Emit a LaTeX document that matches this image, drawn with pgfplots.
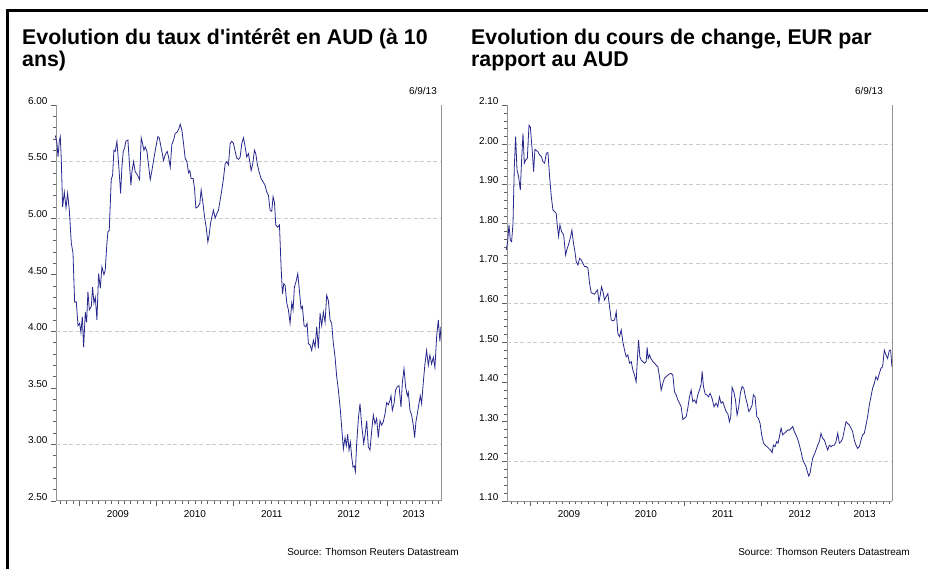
\documentclass[border=0pt]{standalone}
\usepackage{pgfplots}
\pgfplotsset{compat=1.18}
\usepackage{pgfplotstable}
\usepackage{fontspec}
\setmainfont{Liberation Sans}[Ligatures=TeXOff]
\definecolor{navyline}{RGB}{40,40,140}

\pgfplotstableread{
x y
2008.686 5.73
2008.708 5.66
2008.721 5.54
2008.738 5.68
2008.751 5.72
2008.764 5.51
2008.781 5.10
2008.803 5.23
2008.825 5.09
2008.846 5.22
2008.868 5.07
2008.894 4.78
2008.916 4.69
2008.937 4.26
2008.959 4.26
2008.981 4.05
2009.002 4.07
2009.019 3.99
2009.037 4.13
2009.054 3.86
2009.076 4.17
2009.093 4.08
2009.110 4.35
2009.128 4.19
2009.154 4.22
2009.171 4.39
2009.188 4.25
2009.206 4.30
2009.227 4.10
2009.249 4.51
2009.271 4.38
2009.292 4.57
2009.318 4.50
2009.335 4.54
2009.357 4.78
2009.370 4.88
2009.387 4.89
2009.413 5.34
2009.431 5.38
2009.448 5.60
2009.465 5.59
2009.487 5.68
2009.509 5.48
2009.535 5.22
2009.552 5.45
2009.569 5.59
2009.587 5.62
2009.604 5.68
2009.630 5.69
2009.647 5.51
2009.669 5.29
2009.682 5.41
2009.703 5.50
2009.725 5.41
2009.755 5.38
2009.781 5.34
2009.803 5.71
2009.820 5.66
2009.838 5.60
2009.855 5.63
2009.877 5.59
2009.898 5.47
2009.920 5.34
2009.942 5.42
2009.963 5.51
2009.994 5.63
2010.019 5.72
2010.037 5.71
2010.063 5.62
2010.093 5.51
2010.115 5.56
2010.141 5.59
2010.158 5.54
2010.180 5.45
2010.201 5.65
2010.223 5.69
2010.245 5.75
2010.271 5.76
2010.292 5.79
2010.310 5.83
2010.331 5.78
2010.353 5.66
2010.374 5.53
2010.396 5.50
2010.418 5.40
2010.435 5.42
2010.452 5.35
2010.478 5.35
2010.496 5.26
2010.513 5.09
2010.539 5.10
2010.565 5.13
2010.582 5.25
2010.604 5.14
2010.626 5.01
2010.647 4.92
2010.669 4.79
2010.686 4.85
2010.703 4.95
2010.721 5.01
2010.742 5.07
2010.764 5.00
2010.786 5.04
2010.807 5.07
2010.829 5.16
2010.851 5.25
2010.872 5.35
2010.894 5.48
2010.916 5.50
2010.937 5.47
2010.959 5.66
2010.981 5.68
2011.002 5.66
2011.024 5.59
2011.045 5.53
2011.067 5.52
2011.089 5.54
2011.110 5.66
2011.132 5.71
2011.154 5.63
2011.175 5.54
2011.197 5.57
2011.219 5.48
2011.232 5.42
2011.253 5.48
2011.275 5.60
2011.292 5.57
2011.314 5.47
2011.335 5.41
2011.361 5.35
2011.387 5.32
2011.413 5.29
2011.435 5.23
2011.457 5.20
2011.478 5.07
2011.500 5.06
2011.517 5.19
2011.535 5.14
2011.552 4.94
2011.578 4.92
2011.600 4.94
2011.621 4.57
2011.639 4.33
2011.656 4.42
2011.673 4.41
2011.695 4.25
2011.716 4.19
2011.738 4.07
2011.760 4.25
2011.777 4.19
2011.794 4.39
2011.816 4.44
2011.838 4.51
2011.855 4.39
2011.881 4.20
2011.898 4.22
2011.920 4.05
2011.942 4.04
2011.959 4.07
2011.976 3.89
2011.998 3.88
2012.019 3.83
2012.041 3.92
2012.063 3.86
2012.084 4.04
2012.106 3.85
2012.128 4.16
2012.149 4.05
2012.171 4.17
2012.193 4.08
2012.214 4.32
2012.236 4.27
2012.258 4.10
2012.279 4.07
2012.301 3.89
2012.323 3.77
2012.344 3.60
2012.366 3.48
2012.392 3.30
2012.409 3.15
2012.431 2.96
2012.452 3.06
2012.470 2.99
2012.487 3.09
2012.504 2.95
2012.522 3.02
2012.539 2.89
2012.556 2.80
2012.574 2.81
2012.587 2.76
2012.604 3.01
2012.626 3.23
2012.647 3.36
2012.669 3.17
2012.695 3.01
2012.712 3.08
2012.734 3.21
2012.755 2.98
2012.777 2.95
2012.799 3.12
2012.820 3.26
2012.842 3.18
2012.864 3.23
2012.885 3.06
2012.907 3.21
2012.929 3.17
2012.950 3.20
2012.972 3.27
2012.994 3.37
2013.015 3.35
2013.037 3.39
2013.050 3.43
2013.067 3.30
2013.089 3.36
2013.110 3.48
2013.132 3.51
2013.154 3.52
2013.180 3.33
2013.197 3.54
2013.219 3.67
2013.240 3.51
2013.262 3.43
2013.275 3.46
2013.297 3.30
2013.318 3.26
2013.340 3.17
2013.357 3.06
2013.374 3.20
2013.392 3.27
2013.413 3.36
2013.431 3.43
2013.448 3.36
2013.470 3.55
2013.491 3.71
2013.513 3.83
2013.535 3.70
2013.556 3.79
2013.578 3.71
2013.600 3.77
2013.621 3.68
2013.643 3.95
2013.665 4.10
2013.686 3.91
2013.699 4.04
}\rates

\pgfplotstableread{
x y
2008.686 1.734
2008.703 1.755
2008.721 1.797
2008.738 1.759
2008.755 1.755
2008.773 1.801
2008.790 1.944
2008.807 2.020
2008.825 1.936
2008.846 1.919
2008.868 1.885
2008.885 1.961
2008.903 2.028
2008.920 1.953
2008.937 1.961
2008.959 1.965
2008.981 2.049
2008.998 2.045
2009.024 1.982
2009.041 1.932
2009.058 1.988
2009.076 1.985
2009.097 1.982
2009.119 1.974
2009.141 1.970
2009.162 1.957
2009.184 1.953
2009.206 1.978
2009.227 1.980
2009.249 1.919
2009.271 1.869
2009.292 1.835
2009.314 1.831
2009.335 1.826
2009.348 1.797
2009.366 1.768
2009.383 1.797
2009.405 1.780
2009.431 1.772
2009.457 1.721
2009.478 1.738
2009.500 1.751
2009.522 1.768
2009.539 1.784
2009.556 1.755
2009.578 1.730
2009.595 1.704
2009.617 1.696
2009.639 1.713
2009.660 1.709
2009.682 1.700
2009.703 1.692
2009.725 1.692
2009.747 1.688
2009.768 1.650
2009.790 1.626
2009.812 1.624
2009.833 1.622
2009.855 1.629
2009.872 1.633
2009.890 1.603
2009.907 1.620
2009.924 1.641
2009.942 1.629
2009.963 1.608
2009.985 1.616
2010.006 1.624
2010.028 1.591
2010.050 1.557
2010.071 1.555
2010.093 1.557
2010.115 1.578
2010.136 1.523
2010.158 1.515
2010.180 1.532
2010.201 1.502
2010.223 1.481
2010.245 1.464
2010.266 1.469
2010.288 1.448
2010.310 1.452
2010.331 1.431
2010.353 1.418
2010.374 1.401
2010.392 1.464
2010.405 1.507
2010.422 1.464
2010.439 1.456
2010.461 1.452
2010.483 1.448
2010.504 1.452
2010.517 1.488
2010.530 1.460
2010.548 1.469
2010.565 1.460
2010.591 1.452
2010.613 1.448
2010.634 1.443
2010.656 1.439
2010.677 1.414
2010.699 1.380
2010.721 1.397
2010.742 1.410
2010.764 1.414
2010.786 1.418
2010.807 1.421
2010.829 1.422
2010.851 1.418
2010.872 1.376
2010.894 1.368
2010.916 1.355
2010.937 1.347
2010.959 1.338
2010.981 1.306
2011.002 1.309
2011.024 1.313
2011.045 1.334
2011.067 1.363
2011.089 1.380
2011.110 1.351
2011.132 1.355
2011.154 1.347
2011.175 1.368
2011.197 1.380
2011.219 1.395
2011.232 1.427
2011.249 1.389
2011.271 1.370
2011.292 1.368
2011.314 1.363
2011.335 1.372
2011.361 1.359
2011.387 1.338
2011.413 1.347
2011.435 1.338
2011.457 1.363
2011.478 1.347
2011.500 1.351
2011.522 1.338
2011.543 1.326
2011.565 1.321
2011.587 1.300
2011.604 1.313
2011.621 1.387
2011.643 1.376
2011.665 1.355
2011.686 1.317
2011.708 1.338
2011.729 1.372
2011.751 1.389
2011.773 1.385
2011.794 1.363
2011.816 1.347
2011.838 1.326
2011.855 1.330
2011.881 1.342
2011.898 1.368
2011.920 1.363
2011.942 1.313
2011.963 1.309
2011.985 1.296
2012.006 1.267
2012.028 1.247
2012.050 1.241
2012.076 1.237
2012.097 1.233
2012.119 1.229
2012.141 1.222
2012.158 1.241
2012.180 1.237
2012.201 1.250
2012.219 1.246
2012.236 1.262
2012.258 1.284
2012.279 1.267
2012.301 1.271
2012.323 1.275
2012.344 1.279
2012.366 1.279
2012.392 1.284
2012.409 1.288
2012.431 1.275
2012.452 1.267
2012.478 1.254
2012.496 1.241
2012.517 1.225
2012.539 1.205
2012.561 1.195
2012.582 1.187
2012.600 1.174
2012.617 1.163
2012.634 1.170
2012.652 1.191
2012.669 1.208
2012.695 1.220
2012.712 1.229
2012.734 1.241
2012.755 1.250
2012.777 1.271
2012.799 1.258
2012.820 1.254
2012.842 1.241
2012.864 1.229
2012.885 1.241
2012.907 1.237
2012.929 1.241
2012.950 1.241
2012.972 1.250
2012.994 1.271
2013.015 1.246
2013.037 1.250
2013.058 1.258
2013.080 1.279
2013.102 1.300
2013.123 1.296
2013.145 1.292
2013.167 1.284
2013.188 1.275
2013.210 1.254
2013.232 1.241
2013.253 1.233
2013.275 1.237
2013.297 1.254
2013.318 1.267
2013.340 1.271
2013.362 1.292
2013.383 1.313
2013.405 1.342
2013.426 1.363
2013.448 1.385
2013.470 1.397
2013.491 1.414
2013.513 1.406
2013.535 1.422
2013.556 1.435
2013.578 1.439
2013.600 1.481
2013.621 1.469
2013.643 1.460
2013.665 1.480
2013.682 1.481
2013.699 1.439
}\fx

\pgfplotsset{
  dschart/.style={
    scale only axis, width=385bp, height=396bp, anchor=south west,
    xmin=2008.695, xmax=2013.70,
    axis x line*=bottom, axis y line*=left,
    axis line style={draw=gray!85, line width=1bp},
    tick align=outside,
    tick style={draw=gray!75!black, line width=0.6bp},
    major tick length=5bp, minor tick length=3bp,
    xtick={2009,2010,2011,2012,2013},
    xticklabels={2009,2010,2011,2012,{\hspace*{-24bp}2013}},
    xticklabel style={xshift=38.5bp, yshift=-1bp},
    minor xtick={2008.75,2008.833,2008.917,
      2009.083,2009.167,2009.25,2009.333,2009.417,2009.5,2009.583,2009.667,2009.75,2009.833,2009.917,
      2010.083,2010.167,2010.25,2010.333,2010.417,2010.5,2010.583,2010.667,2010.75,2010.833,2010.917,
      2011.083,2011.167,2011.25,2011.333,2011.417,2011.5,2011.583,2011.667,2011.75,2011.833,2011.917,
      2012.083,2012.167,2012.25,2012.333,2012.417,2012.5,2012.583,2012.667,2012.75,2012.833,2012.917,
      2013.083,2013.167,2013.25,2013.333,2013.417,2013.5,2013.583,2013.667},
    ticklabel style={font=\fontsize{10}{12}\selectfont, text=black},
    /pgf/number format/assume math mode=true,
    yticklabel style={yshift=4bp, /pgf/number format/fixed, /pgf/number format/fixed zerofill, /pgf/number format/precision=2},
    major grid style={draw=gray!40, dash pattern=on 4bp off 2.5bp, line width=0.6bp},
    extra y tick labels={},
    extra y tick style={grid=major, major tick length=0pt},
    clip=false,
  }
}

\begin{document}
\begin{tikzpicture}
\useasboundingbox (0bp,0bp) rectangle (928bp,569bp);
\draw[line width=3bp, line cap=rect] (7bp,0bp) -- (7bp,558.5bp) -- (930bp,558.5bp);

\node[anchor=base west, inner sep=0pt, font=\fontsize{21.4}{24}\selectfont\bfseries] at (22bp,524bp) {Evolution du taux d'intérêt en AUD (à 10};
\node[anchor=base west, inner sep=0pt, font=\fontsize{21.4}{24}\selectfont\bfseries] at (22bp,502bp) {ans)};
\node[anchor=base west, inner sep=0pt, font=\fontsize{21.4}{24}\selectfont\bfseries] at (471bp,524bp) {Evolution du cours de change, EUR par};
\node[anchor=base west, inner sep=0pt, font=\fontsize{21.4}{24}\selectfont\bfseries] at (471bp,502bp) {rapport au AUD};

\node[anchor=base east, inner sep=0pt, font=\fontsize{10}{12}\selectfont] at (437bp,474bp) {6/9/13};
\node[anchor=base east, inner sep=0pt, font=\fontsize{10}{12}\selectfont] at (883bp,474bp) {6/9/13};
\node[anchor=base east, inner sep=0pt, font=\fontsize{10}{12}\selectfont] at (459bp,14bp) {Source: Thomson Reuters Datastream};
\node[anchor=base east, inner sep=0pt, font=\fontsize{10}{12}\selectfont] at (910bp,14bp) {Source: Thomson Reuters Datastream};

\begin{axis}[dschart, at={(56bp,68bp)},
  ymin=2.5, ymax=6, ytick={2.5,3,3.5,4,4.5,5,5.5,6}, minor y tick num=4,
  extra y ticks={3,4,5,5.5}]
  \addplot[navyline, line width=0.8bp, mark=none] table[x=x, y=y] {\rates};
  \draw[draw=gray!85, line width=1bp] (rel axis cs:1,0) -- (rel axis cs:1,1);
\end{axis}

\begin{axis}[dschart, at={(507bp,68bp)},
  ymin=1.1, ymax=2.1, ytick={1.1,1.2,1.3,1.4,1.5,1.6,1.7,1.8,1.9,2.0,2.1}, minor y tick num=4,
  extra y ticks={1.2,1.5,1.6,1.7,1.8,1.9,2.0}]
  \addplot[navyline, line width=0.8bp, mark=none] table[x=x, y=y] {\fx};
  \draw[draw=gray!85, line width=1bp] (rel axis cs:1,0) -- (rel axis cs:1,1);
\end{axis}
\end{tikzpicture}
\end{document}
